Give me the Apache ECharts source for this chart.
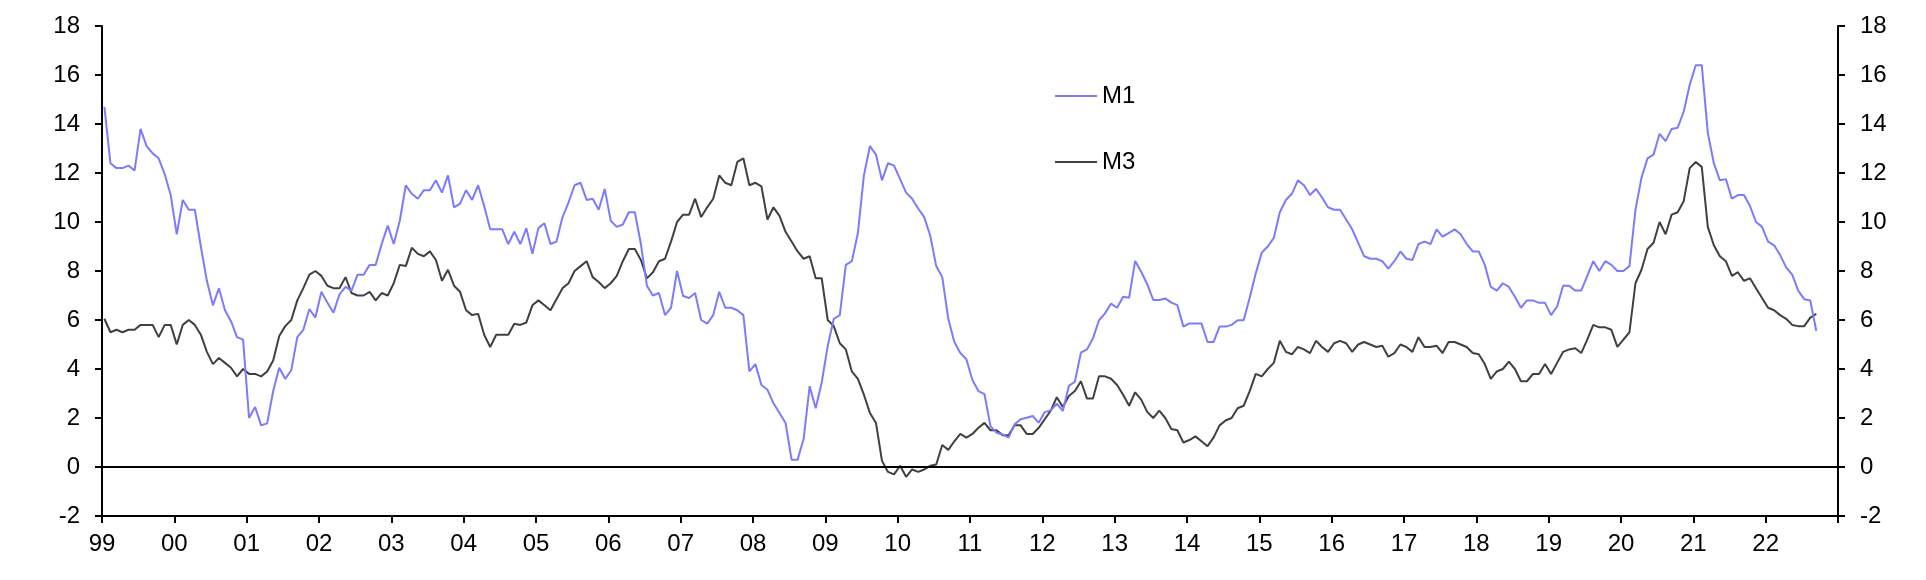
<!DOCTYPE html>
<html>
<head>
<meta charset="utf-8">
<script src="https://cdn.jsdelivr.net/npm/echarts@6/dist/echarts.min.js"></script>
<style>
html,body{margin:0;padding:0;background:#fff;}
#chart{width:1926px;height:580px;}
</style>
</head>
<body>
<div id="chart"></div>
<script>
// Monthly data, Jan 1999 .. Sep 2022 (% y/y)
const yearLabels = ['99','00','01','02','03','04','05','06','07','08','09','10','11','12','13','14','15','16','17','18','19','20','21','22'];
const seriesNames = ['M1', 'M3'];
const m1 = [
  14.7, 12.4, 12.2, 12.2, 12.3, 12.1, 13.8, 13.1, 12.8, 12.6, 11.95, 11.1,
  9.5, 10.9, 10.5, 10.5, 9.0, 7.6, 6.6, 7.3, 6.4, 5.95, 5.3, 5.2,
  2.0, 2.45, 1.7, 1.78, 3.1, 4.05, 3.6, 3.95, 5.3, 5.6, 6.45, 6.1,
  7.15, 6.7, 6.3, 7.05, 7.35, 7.2, 7.85, 7.85, 8.25, 8.25, 9.1, 9.85,
  9.1, 10.05, 11.5, 11.15, 10.95, 11.3, 11.3, 11.7, 11.2, 11.9, 10.6, 10.75,
  11.3, 10.9, 11.5, 10.65, 9.7, 9.7, 9.7, 9.1, 9.6, 9.1, 9.75, 8.7,
  9.75, 9.95, 9.1, 9.2, 10.2, 10.8, 11.5, 11.6, 10.9, 10.95, 10.5, 11.35,
  10.05, 9.8, 9.9, 10.4, 10.4, 9.1, 7.4, 7.0, 7.1, 6.2, 6.5, 8.0,
  6.98, 6.9, 7.1, 6.0, 5.85, 6.2, 7.15, 6.5, 6.5, 6.4, 6.2, 3.9,
  4.2, 3.35, 3.15, 2.6, 2.2, 1.8, 0.3, 0.3, 1.15, 3.3, 2.4, 3.45,
  4.95, 6.05, 6.2, 8.25, 8.4, 9.55, 11.9, 13.1, 12.75, 11.7, 12.4, 12.3,
  11.75, 11.2, 10.95, 10.55, 10.2, 9.45, 8.2, 7.75, 6.05, 5.1, 4.65, 4.4,
  3.55, 3.1, 2.97, 1.67, 1.4, 1.33, 1.2, 1.74, 1.95, 2.01, 2.08, 1.81,
  2.24, 2.31, 2.59, 2.29, 3.31, 3.48, 4.67, 4.8, 5.25, 5.99, 6.27, 6.67,
  6.5, 6.95, 6.91, 8.41, 7.97, 7.46, 6.82, 6.82, 6.88, 6.71, 6.61, 5.73,
  5.86, 5.86, 5.86, 5.1, 5.1, 5.73, 5.73, 5.8, 5.99, 5.99, 6.91, 7.9,
  8.75, 9.0, 9.35, 10.4, 10.9, 11.15, 11.7, 11.5, 11.1, 11.35, 11.0, 10.6,
  10.5, 10.5, 10.1, 9.7, 9.15, 8.6, 8.5, 8.5, 8.4, 8.1, 8.4, 8.8,
  8.5, 8.45, 9.1, 9.2, 9.1, 9.7, 9.4, 9.55, 9.7, 9.5, 9.1, 8.8,
  8.8, 8.25, 7.35, 7.2, 7.5, 7.35, 6.95, 6.5, 6.8, 6.8, 6.7, 6.7,
  6.2, 6.55, 7.4, 7.4, 7.2, 7.2, 7.8, 8.4, 8.0, 8.4, 8.25, 8.0,
  8.0, 8.2, 10.5, 11.8, 12.6, 12.75, 13.6, 13.3, 13.8, 13.85, 14.5, 15.6,
  16.4, 16.4, 13.65, 12.4, 11.7, 11.75, 10.95, 11.1, 11.1, 10.65, 10.0, 9.8,
  9.2, 9.05, 8.65, 8.15, 7.85, 7.2, 6.85, 6.8, 5.55
];
const m3 = [
  6.05, 5.5, 5.6, 5.5, 5.6, 5.6, 5.8, 5.8, 5.8, 5.3, 5.8, 5.8,
  5.0, 5.8, 6.0, 5.8, 5.4, 4.7, 4.2, 4.45, 4.25, 4.05, 3.7, 4.0,
  3.8, 3.8, 3.7, 3.9, 4.35, 5.35, 5.75, 6.0, 6.8, 7.3, 7.85, 8.0,
  7.8, 7.4, 7.3, 7.3, 7.75, 7.1, 7.0, 7.0, 7.15, 6.8, 7.1, 7.0,
  7.5, 8.25, 8.2, 8.95, 8.7, 8.6, 8.8, 8.45, 7.6, 8.05, 7.4, 7.15,
  6.4, 6.2, 6.25, 5.4, 4.9, 5.4, 5.4, 5.4, 5.85, 5.8, 5.9, 6.6,
  6.8, 6.6, 6.4, 6.85, 7.3, 7.5, 8.0, 8.2, 8.4, 7.75, 7.55, 7.3,
  7.5, 7.8, 8.4, 8.9, 8.9, 8.45, 7.7, 7.95, 8.4, 8.5, 9.2, 10.0,
  10.3, 10.3, 10.95, 10.2, 10.6, 10.95, 11.9, 11.6, 11.5, 12.45, 12.6, 11.5,
  11.6, 11.45, 10.1, 10.6, 10.25, 9.6, 9.2, 8.8, 8.5, 8.6, 7.7, 7.7,
  6.0, 5.75, 5.05, 4.8, 3.9, 3.6, 2.95, 2.2, 1.8, 0.25, -0.2, -0.3,
  0.05, -0.4, -0.1, -0.2, -0.1, 0.05, 0.1, 0.9, 0.7, 1.05, 1.35, 1.2,
  1.35, 1.6, 1.8, 1.5, 1.5, 1.3, 1.3, 1.7, 1.7, 1.35, 1.35, 1.6,
  1.95, 2.3, 2.85, 2.45, 2.9, 3.1, 3.5, 2.8, 2.8, 3.7, 3.7, 3.6,
  3.35, 2.95, 2.5, 3.05, 2.75, 2.25, 2.0, 2.3, 2.0, 1.55, 1.5, 1.0,
  1.1, 1.25, 1.05, 0.85, 1.2, 1.7, 1.9, 2.0, 2.4, 2.5, 3.1, 3.8,
  3.7, 4.0, 4.25, 5.15, 4.7, 4.6, 4.9, 4.8, 4.65, 5.15, 4.9, 4.7,
  5.05, 5.15, 5.05, 4.7, 5.0, 5.1, 5.0, 4.9, 4.95, 4.5, 4.65, 5.0,
  4.9, 4.7, 5.3, 4.9, 4.9, 4.95, 4.65, 5.1, 5.1, 5.0, 4.9, 4.65,
  4.6, 4.2, 3.6, 3.9, 4.0, 4.3, 4.0, 3.5, 3.5, 3.8, 3.8, 4.2,
  3.8, 4.25, 4.7, 4.8, 4.85, 4.65, 5.2, 5.8, 5.7, 5.7, 5.6, 4.9,
  5.2, 5.5, 7.5, 8.05, 8.9, 9.15, 10.0, 9.5, 10.3, 10.4, 10.85, 12.2,
  12.45, 12.25, 9.8, 9.05, 8.6, 8.4, 7.8, 7.95, 7.6, 7.7, 7.3, 6.9,
  6.5, 6.4, 6.2, 6.05, 5.8, 5.75, 5.75, 6.1, 6.25
];

// monthly points are plotted mid-month on a month-index axis (12 per year)
const toPoints = arr => arr.map((v, i) => [i + 0.4, v]);
const FONT = 'Liberation Sans, Arial, sans-serif';
const axisLine = { show: true, lineStyle: { color: '#000', width: 2 } };
const yAxisCommon = {
  type: 'value', min: -2, max: 18, interval: 2,
  axisLine: axisLine,
  axisTick: { show: true, inside: false, length: 7, lineStyle: { color: '#000', width: 2 } },
  axisLabel: { color: '#000', fontSize: 24, fontFamily: FONT, margin: 22 },
  splitLine: { show: false }
};

const chart = echarts.init(document.getElementById('chart'), null, { renderer: 'canvas' });
chart.setOption({
  backgroundColor: '#fff',
  animation: false,
  grid: { left: 102, right: 88, top: 26, bottom: 64, containLabel: false },
  legend: {
    orient: 'vertical', left: 1050, top: 79,
    itemWidth: 42, itemHeight: 2, itemGap: 42,
    textStyle: { color: '#000', fontSize: 24, fontFamily: FONT },
    data: seriesNames.map(n => ({ name: n, icon: 'rect' }))
  },
  xAxis: {
    type: 'value', min: 0, max: yearLabels.length * 12, interval: 12,
    axisLine: Object.assign({ onZero: false }, axisLine),
    axisTick: { show: true, length: 7, lineStyle: { color: '#000', width: 2 } },
    axisLabel: {
      color: '#000', fontSize: 24, fontFamily: FONT, margin: 16,
      formatter: v => yearLabels[Math.round(v / 12)] || ''
    },
    splitLine: { show: false }
  },
  yAxis: [
    Object.assign({ position: 'left' }, yAxisCommon),
    Object.assign({ position: 'right' }, yAxisCommon)
  ],
  series: [
    {
      name: seriesNames[0], type: 'line', data: toPoints(m1), symbol: 'none',
      lineStyle: { color: '#7b7bff', width: 2 }, itemStyle: { color: '#7b7bff' },
      markLine: {
        silent: true, symbol: 'none', label: { show: false },
        lineStyle: { color: '#000', width: 2, type: 'solid' },
        data: [{ yAxis: 0 }]
      },
      z: 3
    },
    {
      name: seriesNames[1], type: 'line', data: toPoints(m3), symbol: 'none',
      lineStyle: { color: '#404040', width: 2 }, itemStyle: { color: '#404040' },
      z: 2
    }
  ]
});
</script>
</body>
</html>
